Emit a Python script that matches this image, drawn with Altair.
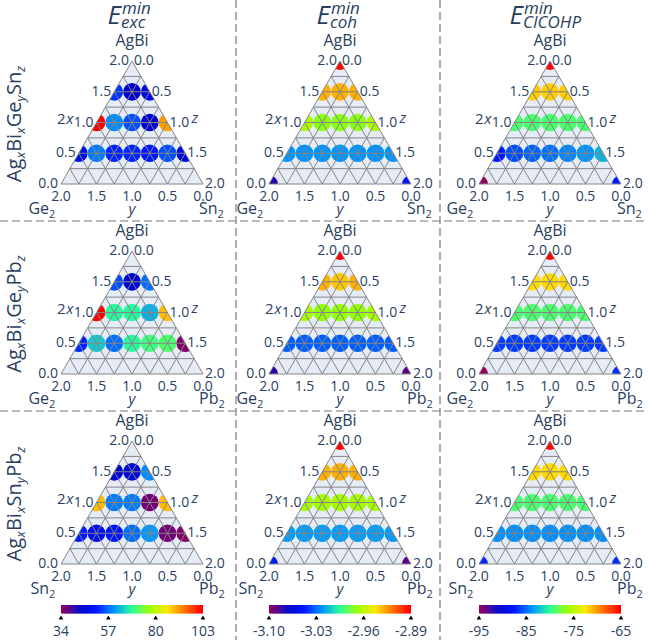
import math

import altair as alt
import numpy as np
import pandas as pd

FONT = "Open Sans"
INK = "#2a3f5f"

# Compositions on the ternary grid: 2x (AgBi), y (bottom species); z = 2 - 2x - y
two_x = [2.0, 0.0, 0.0,
         1.5, 1.5, 1.5,
         1.0, 1.0, 1.0, 1.0, 1.0,
         0.5, 0.5, 0.5, 0.5, 0.5, 0.5, 0.5]
y_comp = [0.0, 2.0, 0.0,
          0.5, 0.25, 0.0,
          1.0, 0.75, 0.5, 0.25, 0.0,
          1.5, 1.25, 1.0, 0.75, 0.5, 0.25, 0.0]

N = None
# Ag_xBi_xGe_ySn_z
exc_ge_sn = [N, N, N, 53, 43, 46, 103, 59, 55, 44, 91, 47, 58, 52, 52, 51, 55, 46]
coh_ge_sn = [-2.89, -3.08, -3.05, -2.93, -2.93, -2.93, -2.963, -2.972, -2.972, -2.972, -2.963,
             -3.022, -3.022, -3.022, -3.022, -3.022, -3.022, -3.022]
cicohp_ge_sn = [-65, -95, -87.5, -71.6, -71.6, -71.6, -79, -79, -79, -79, -79,
                -87.5, -86, -85.3, -84.8, -84.3, -83.8, -82.8]
# Ag_xBi_xGe_yPb_z
exc_ge_pb = [N, N, N, 55, 44, 57, 103, 68, 68, 62, 89, 52, 64, 57, 68, 70, 71, 35]
coh_ge_pb = [-2.89, -3.08, -3.09, -2.93, -2.935, -2.93, -2.965, -2.97, -2.97, -2.97, -2.965,
             -3.033, -3.033, -3.033, -3.033, -3.033, -3.033, -3.033]
cicohp_ge_pb = [-65, -95, -87, -72, -72, -72, -79, -79, -79, -79, -79,
                -86.5, -86.5, -86.5, -86.5, -86.5, -86.5, -86.5]
# Ag_xBi_xSn_yPb_z
exc_sn_pb = [N, N, N, 44, 45, 59, 89, 58, 58, 36, 89, 51, 48, 50, 57, 60, 36, 35]
coh_sn_pb = [-2.89, -3.05, -3.09, -2.93, -2.93, -2.93, -2.965, -2.965, -2.965, -2.965, -2.965,
             -3.02, -3.02, -3.02, -3.02, -3.02, -3.02, -3.02]
cicohp_sn_pb = [-65, -87, -87, -72, -72, -72, -79, -79, -79, -79, -79,
                -84, -84, -84, -84, -84, -84, -84]

panel_values = [
    [exc_ge_sn, coh_ge_sn, cicohp_ge_sn],
    [exc_ge_pb, coh_ge_pb, cicohp_ge_pb],
    [exc_sn_pb, coh_sn_pb, cicohp_sn_pb],
]

corner_left = ["Ge", "Ge", "Sn"]
corner_right = ["Sn", "Pb", "Pb"]
row_titles = [
    [("Ag", "x"), ("Bi", "x"), ("Ge", "y"), ("Sn", "z")],
    [("Ag", "x"), ("Bi", "x"), ("Ge", "y"), ("Pb", "z")],
    [("Ag", "x"), ("Bi", "x"), ("Sn", "y"), ("Pb", "z")],
]
col_subscripts = ["exc", "coh", "CICOHP"]

cbar_domains = [(34, 103), (-3.10, -2.89), (-95, -65)]
cbar_ticks = [[34, 57, 80, 103], [-3.10, -3.03, -2.96, -2.89], [-95, -85, -75, -65]]
cbar_labels = [["34", "57", "80", "103"], ["-3.10", "-3.03", "-2.96", "-2.89"],
               ["-95", "-85", "-75", "-65"]]
tick_values = [0.0, 0.5, 1.0, 1.5, 2.0]
tick_labels = ["0.0", "0.5", "1.0", "1.5", "2.0"]

rainbow = ["#96005a", "#0000c8", "#0019ff", "#0098ff", "#2cff96",
           "#97ff00", "#ffea00", "#ff6f00", "#ff0000"]

# ---- layout (pixels) ----
W, H = 648, 640
CX = [132, 340, 550]
YB = [184, 374, 564]
SIDE = 142
HGT = SIDE * math.sqrt(3) / 2
PAD = 12
TITLE_DX = [-11, -10, -27]
SEP_X = [236, 440]
SEP_Y = [221, 411]
CBAR_Y0, CBAR_Y1 = 605, 613.5

X = alt.X("px:Q", scale=alt.Scale(domain=[0, W], nice=False, zero=False), axis=None)
Y = alt.Y("py:Q", scale=alt.Scale(domain=[0, H], reverse=True, nice=False, zero=False), axis=None)


def corners(ci, ri):
    cx, yb = CX[ci], YB[ri]
    return (cx, yb - HGT), (cx - SIDE / 2, yb), (cx + SIDE / 2, yb)


def tern(ci, ri, a, b):
    c = 2 - a - b
    (tx, ty), (lx, ly), (rx, ry) = corners(ci, ri)
    return (a * tx + b * lx + c * rx) / 2, (a * ty + b * ly + c * ry) / 2


def color_scale(ci):
    lo, hi = cbar_domains[ci]
    stops = list(np.linspace(lo, hi, len(rainbow)))
    return alt.Scale(domain=stops, range=rainbow, interpolate="rgb")


layers = []

# triangle backgrounds
bg_rows = []
for ri in range(3):
    for ci in range(3):
        (tx, ty), (lx, ly), (rx, ry) = corners(ci, ri)
        g = f"{ri}{ci}"
        bg_rows += [dict(g=g, px=lx, py=ly, py2=ly), dict(g=g, px=tx, py=ty, py2=ly),
                    dict(g=g, px=rx, py=ry, py2=ly)]
layers.append(alt.Chart(pd.DataFrame(bg_rows)).mark_area(
    orient="vertical", color="#E5ECF6", opacity=1).encode(
    x=X, y=Y, y2=alt.Y2("py2:Q"), detail="g:N"))

# markers, one layer per column (own colour scale)
for ci in range(3):
    rows = []
    for ri in range(3):
        vals = panel_values[ri][ci]
        for a, b, v in zip(two_x, y_comp, vals):
            if v is None:
                continue
            px, py = tern(ci, ri, a, b)
            rows.append(dict(px=px, py=py, val=v))
    layers.append(alt.Chart(pd.DataFrame(rows)).mark_circle(size=314, opacity=1).encode(
        x=X, y=Y, color=alt.Color("val:Q", scale=color_scale(ci), legend=None)))

# white masks clip markers to the triangles
mask_rows = []
for ri in range(3):
    for ci in range(3):
        (tx, ty), (lx, ly), (rx, ry) = corners(ci, ri)
        top = ty - PAD
        g = f"{ri}{ci}"
        mask_rows += [dict(g=g + "l", px=lx - PAD, py=ly + PAD, py2=top),
                      dict(g=g + "l", px=lx, py=ly, py2=top),
                      dict(g=g + "l", px=tx, py=ty, py2=top),
                      dict(g=g + "r", px=tx, py=ty, py2=top),
                      dict(g=g + "r", px=rx, py=ry, py2=top),
                      dict(g=g + "r", px=rx + PAD, py=ry + PAD, py2=top),
                      dict(g=g + "b", px=lx - PAD, py=ly, py2=ly + PAD),
                      dict(g=g + "b", px=rx + PAD, py=ry, py2=ly + PAD)]
layers.append(alt.Chart(pd.DataFrame(mask_rows)).mark_area(
    orient="vertical", color="white", opacity=1).encode(
    x=X, y=Y, y2=alt.Y2("py2:Q"), detail="g:N"))

# grid lines and outline
grid_rows = []
for ri in range(3):
    for ci in range(3):
        for k in range(0, 9):
            v = k * 0.25
            segs = []
            if 0 < v < 2:
                segs.append((tern(ci, ri, v, 2 - v), tern(ci, ri, v, 0)))
                segs.append((tern(ci, ri, 2 - v, v), tern(ci, ri, 0, v)))
                segs.append((tern(ci, ri, 2 - v, 0), tern(ci, ri, 0, 2 - v)))
            elif v == 0:
                segs.append((tern(ci, ri, 0, 2), tern(ci, ri, 0, 0)))
                segs.append((tern(ci, ri, 2, 0), tern(ci, ri, 0, 2)))
                segs.append((tern(ci, ri, 2, 0), tern(ci, ri, 0, 0)))
            for (x1, y1), (x2, y2) in segs:
                grid_rows.append(dict(px=x1, py=y1, px2=x2, py2=y2))
layers.append(alt.Chart(pd.DataFrame(grid_rows)).mark_rule(
    color="#858585", strokeWidth=1).encode(
    x=X, y=Y, x2=alt.X2("px2:Q"), y2=alt.Y2("py2:Q")))


def text_layer(rows, align, size, italic=False, baseline="middle", angle=0, color=INK):
    return alt.Chart(pd.DataFrame(rows)).mark_text(
        align=align, baseline=baseline, fontSize=size, font=FONT,
        fontStyle="italic" if italic else "normal", angle=angle, color=color).encode(
        x=X, y=Y, text="t:N")


left_ticks, right_ticks, bottom_ticks = [], [], []
name_c, name_l, name_r = [], [], []
sub_l, sub_r = [], []
ax2, axx, axz, axy = [], [], [], []
for ri in range(3):
    for ci in range(3):
        (tx, ty), (lx, ly), (rx, ry) = corners(ci, ri)
        for v, lab in zip(tick_values, tick_labels):
            px, py = tern(ci, ri, v, 2 - v)
            left_ticks.append(dict(px=px - 3, py=py, t=lab))
            px, py = tern(ci, ri, 2 - v, 0)
            right_ticks.append(dict(px=px + 2, py=py, t=lab))
            px, py = tern(ci, ri, 0, v)
            bottom_ticks.append(dict(px=px, py=py + 13, t=lab))
        name_c.append(dict(px=tx, py=ty - 20, t="AgBi"))
        # bottom-left / bottom-right corner names with subscript 2
        name_l.append(dict(px=lx - 12, py=ly + 30, t=corner_left[ri]))
        sub_l.append(dict(px=lx - 12, py=ly + 34, t="2"))
        name_r.append(dict(px=rx - 4, py=ry + 30, t=corner_right[ri]))
        wr = {"Sn": 0.549 + 0.613, "Pb": 0.603 + 0.613}[corner_right[ri]] * 16
        sub_r.append(dict(px=rx - 4 + wr, py=ry + 34, t="2"))
        mx, my = tern(ci, ri, 1, 1)
        ax2.append(dict(px=mx - 31, py=my - 4, t="2"))
        axx.append(dict(px=mx - 23, py=my - 4, t="x"))
        mx, my = tern(ci, ri, 1, 0)
        axz.append(dict(px=mx + 24, py=my - 5, t="z"))
        axy.append(dict(px=tx, py=ly + 25, t="y"))

layers += [
    text_layer(left_ticks, "right", 14),
    text_layer(right_ticks, "left", 14),
    text_layer(bottom_ticks, "center", 14),
    text_layer(name_c, "center", 16),
    text_layer(name_l, "right", 16, baseline="alphabetic"),
    text_layer(sub_l, "left", 11, baseline="alphabetic"),
    text_layer(name_r, "left", 16, baseline="alphabetic"),
    text_layer(sub_r, "left", 11, baseline="alphabetic"),
    text_layer(ax2, "right", 15),
    text_layer(axx, "right", 15, italic=True),
    text_layer(axz, "left", 15, italic=True),
    text_layer(axy, "center", 15, italic=True),
]

# column titles E^min_sub
e_rows, sup_rows, sub_rows = [], [], []
for ci in range(3):
    tx = CX[ci] + TITLE_DX[ci]
    e_rows.append(dict(px=tx, py=24, t="E"))
    sup_rows.append(dict(px=tx + 1, py=13.5, t="min"))
    sub_rows.append(dict(px=tx, py=28, t=col_subscripts[ci]))
layers += [
    text_layer(e_rows, "right", 26, italic=True, baseline="alphabetic"),
    text_layer(sup_rows, "left", 17, italic=True, baseline="alphabetic"),
    text_layer(sub_rows, "left", 17, italic=True, baseline="alphabetic"),
]

# row titles, rotated, built from main text and italic subscripts
CHAR_W = {"A": 0.633, "g": 0.556, "B": 0.647, "i": 0.258, "G": 0.728, "e": 0.561,
          "S": 0.549, "n": 0.613, "P": 0.603, "b": 0.613}
SUB_W = {"x": 0.5, "y": 0.5, "z": 0.45}
MAIN_FS, SUB_FS = 20, 13
main_rows, subr_rows = [], []
for ri in range(3):
    parts = row_titles[ri]
    total = sum(sum(CHAR_W[ch] for ch in m) * MAIN_FS + SUB_W[s] * SUB_FS for m, s in parts)
    ystart = YB[ri] - 60 + total / 2
    cum = 0.0
    for m, s in parts:
        main_rows.append(dict(px=21, py=ystart - cum, t=m))
        cum += sum(CHAR_W[ch] for ch in m) * MAIN_FS
        subr_rows.append(dict(px=25, py=ystart - cum, t=s))
        cum += SUB_W[s] * SUB_FS
layers += [
    text_layer(main_rows, "left", MAIN_FS, baseline="alphabetic", angle=270),
    text_layer(subr_rows, "left", SUB_FS, italic=True, baseline="alphabetic", angle=270),
]

# colour bars under each column
tri_rows, lab_rows = [], []
for ci in range(3):
    (tx, ty), (lx, ly), (rx, ry) = corners(ci, 2)
    lo, hi = cbar_domains[ci]
    nstep = 140
    edges = np.linspace(lx, rx, nstep + 1)
    vals = np.linspace(lo, hi, nstep)
    rows = [dict(px=edges[i], px2=min(edges[i + 1] + 0.6, rx), py=CBAR_Y0, py2=CBAR_Y1, val=vals[i])
            for i in range(nstep)]
    layers.append(alt.Chart(pd.DataFrame(rows)).mark_rect(strokeWidth=0).encode(
        x=X, x2=alt.X2("px2:Q"), y=Y, y2=alt.Y2("py2:Q"),
        color=alt.Color("val:Q", scale=color_scale(ci), legend=None)))
    for tv, tl in zip(cbar_ticks[ci], cbar_labels[ci]):
        px = lx + (tv - lo) / (hi - lo) * (rx - lx)
        tri_rows.append(dict(px=px, py=617.5))
        lab_rows.append(dict(px=px, py=632, t=tl))
layers.append(alt.Chart(pd.DataFrame(tri_rows)).mark_point(
    shape="triangle-up", filled=True, color="black", size=22, opacity=1).encode(x=X, y=Y))
layers.append(text_layer(lab_rows, "center", 14))

# dashed separators between panels
sep_rows = [dict(px=x, py=0, px2=x, py2=H) for x in SEP_X] + \
           [dict(px=0, py=y, px2=W, py2=y) for y in SEP_Y]
layers.append(alt.Chart(pd.DataFrame(sep_rows)).mark_rule(
    color="#777777", strokeWidth=1.2, strokeDash=[8, 4]).encode(
    x=X, y=Y, x2=alt.X2("px2:Q"), y2=alt.Y2("py2:Q")))

chart = alt.layer(*layers).resolve_scale(color="independent").properties(
    width=W, height=H, autosize=alt.AutoSizeParams(type="none"), padding=0,
    background="white").configure_view(stroke=None)

chart.save("out.html", embed_options={"renderer": "svg", "actions": False})
